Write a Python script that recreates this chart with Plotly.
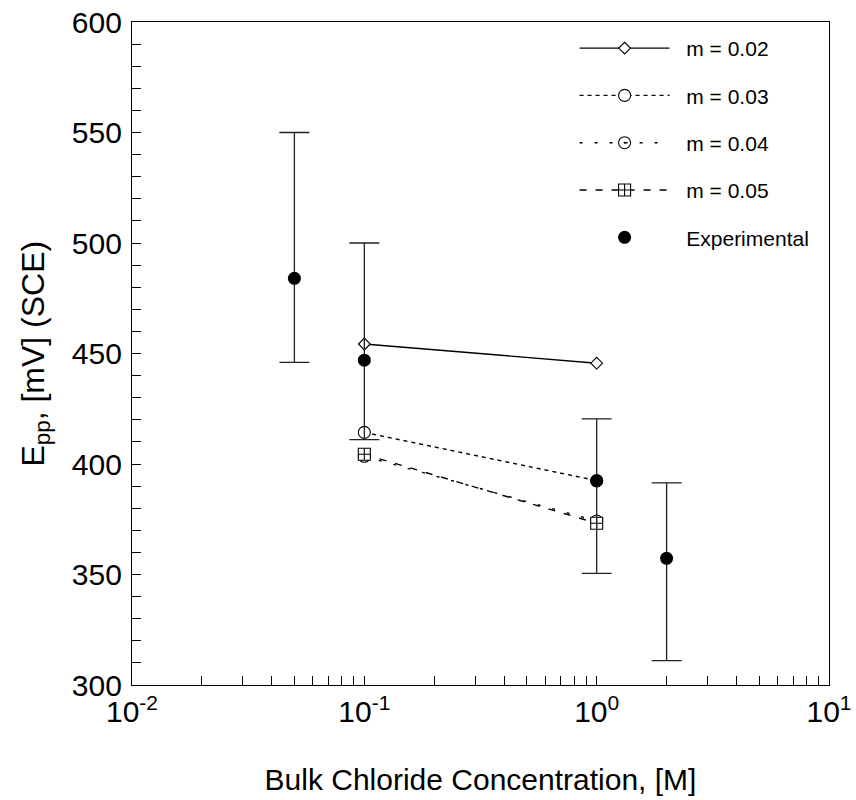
import plotly.graph_objects as go

# ---- data ----
conc_model = [0.1, 1.0]
m002 = [454.3, 445.6]
m003 = [414.3, 392.5]
m004 = [403.5, 374.2]
m005 = [404.4, 373.2]

conc_exp = [0.05, 0.1, 1.0, 2.0]
epp_exp = [484, 447, 392.3, 357.3]
epp_upper = [550, 500, 420.4, 391.5]
epp_lower = [446, 411, 350.5, 311]

series_names = ["m = 0.02", "m = 0.03", "m = 0.04", "m = 0.05"]
exp_name = "Experimental"

x_tickvals = [0.01, 0.02, 0.03, 0.04, 0.05, 0.06, 0.07, 0.08, 0.09,
              0.1, 0.2, 0.3, 0.4, 0.5, 0.6, 0.7, 0.8, 0.9,
              1, 2, 3, 4, 5, 6, 7, 8, 9, 10]
x_ticktext = ["10<sup>-2</sup>"] + [""] * 8 + ["10<sup>-1</sup>"] + [""] * 8 + \
             ["10<sup>0</sup>"] + [""] * 8 + ["10<sup>1</sup>"]

FONT = "Liberation Sans, Arial, sans-serif"
PAD = "\u00a0\u00a0"

fig = go.Figure()

# (values, dash, symbol, size, marker fill)
styles = [
    (m002, "solid", "diamond", 9, "white"),
    (m003, "4px,4px", "circle", 12, "white"),
    (m004, "3px,12px", "circle-open-dot", 12, "black"),
    (m005, "7px,9px", "square-cross", 12, "white"),
]
for i, (name, (vals, dash, sym, sz, fill)) in enumerate(zip(series_names, styles)):
    fig.add_trace(go.Scatter(
        x=conc_model, y=vals, name=PAD + name, mode="lines+markers",
        legendgroup=f"g{i}",
        line=dict(color="black", width=1.4, dash=dash),
        marker=dict(symbol=sym, size=sz, color=fill,
                    line=dict(color="black", width=1.1)),
    ))

up = [u - v for u, v in zip(epp_upper, epp_exp)]
lo = [v - l for v, l in zip(epp_exp, epp_lower)]
fig.add_trace(go.Scatter(
    x=conc_exp, y=epp_exp, name=PAD + exp_name, mode="markers",
    legendgroup="g4",
    marker=dict(symbol="circle", size=13, color="black"),
    error_y=dict(type="data", symmetric=False, array=up, arrayminus=lo,
                 color="#222", thickness=1.3, width=15),
))

axis_common = dict(
    showline=True, linecolor="black", linewidth=1.3, mirror=True,
    ticks="inside", ticklen=9, tickwidth=1, tickcolor="black",
    showgrid=False, zeroline=False, automargin=False,
    tickfont=dict(family=FONT, size=30, color="black"),
)

fig.update_xaxes(
    type="log", range=[-2, 1],
    tickmode="array", tickvals=x_tickvals, ticktext=x_ticktext,
    title=dict(text="Bulk Chloride Concentration, [M]",
               font=dict(family=FONT, size=30, color="black"), standoff=41),
    **axis_common,
)
fig.update_yaxes(
    range=[300, 600], dtick=50, tick0=300,
    minor=dict(dtick=10, ticks="inside", ticklen=9, tickcolor="black"),
    ticklabelstandoff=3,
    **axis_common,
)

fig.update_layout(
    width=856, height=800,
    margin=dict(l=132, r=27, t=22, b=115),
    paper_bgcolor="white", plot_bgcolor="white",
    showlegend=True,
    legend=dict(
        x=0.635, y=0.991, xanchor="left", yanchor="top",
        bgcolor="rgba(0,0,0,0)", borderwidth=0,
        font=dict(family=FONT, size=21, color="black"),
        itemwidth=90, traceorder="grouped", tracegroupgap=17,
    ),
    annotations=[dict(
        text="E<sub>pp</sub>, [mV] (SCE)", textangle=-90,
        xref="paper", yref="paper", x=-0.139, y=0.5,
        xanchor="center", yanchor="middle", showarrow=False,
        font=dict(family=FONT, size=32, color="black"),
    )],
)

fig.write_html(
    "out.html",
    config={"displayModeBar": False},
    post_script="document.body.style.margin='0px';document.body.style.overflow='hidden';",
)
